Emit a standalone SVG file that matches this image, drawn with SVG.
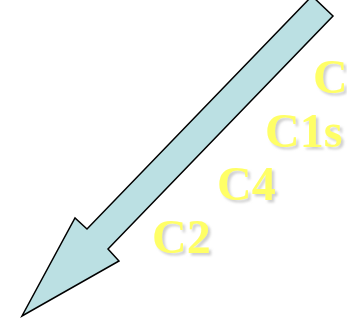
<svg xmlns="http://www.w3.org/2000/svg" width="347" height="332" viewBox="0 0 347 332">
<defs>
<style>
.lbl{font-family:"Liberation Serif","Times New Roman",serif;font-weight:bold;font-size:48px;fill:#FFFF66;filter:url(#sh)}
.arr{fill:#BBE0E3;stroke:#000;stroke-width:1.5;stroke-linejoin:miter}
</style>
<filter id="sh" x="-20%" y="-20%" width="140%" height="140%">
<feDropShadow dx="2.5" dy="2.5" stdDeviation="1" flood-color="#B0B0B0" flood-opacity="0.6"/>
</filter>
</defs>
<g id="arrow">
<polygon class="arr" points="312,-4 333,16 108,249 119,261 22,316 75,218 87,229"/>
</g>
<g id="labels">
<text class="lbl" x="313" y="93">C</text>
<text class="lbl" x="265" y="147">C1s</text>
<text class="lbl" x="217" y="200">C4</text>
<text class="lbl" x="152" y="253">C2</text>
</g>
</svg>
